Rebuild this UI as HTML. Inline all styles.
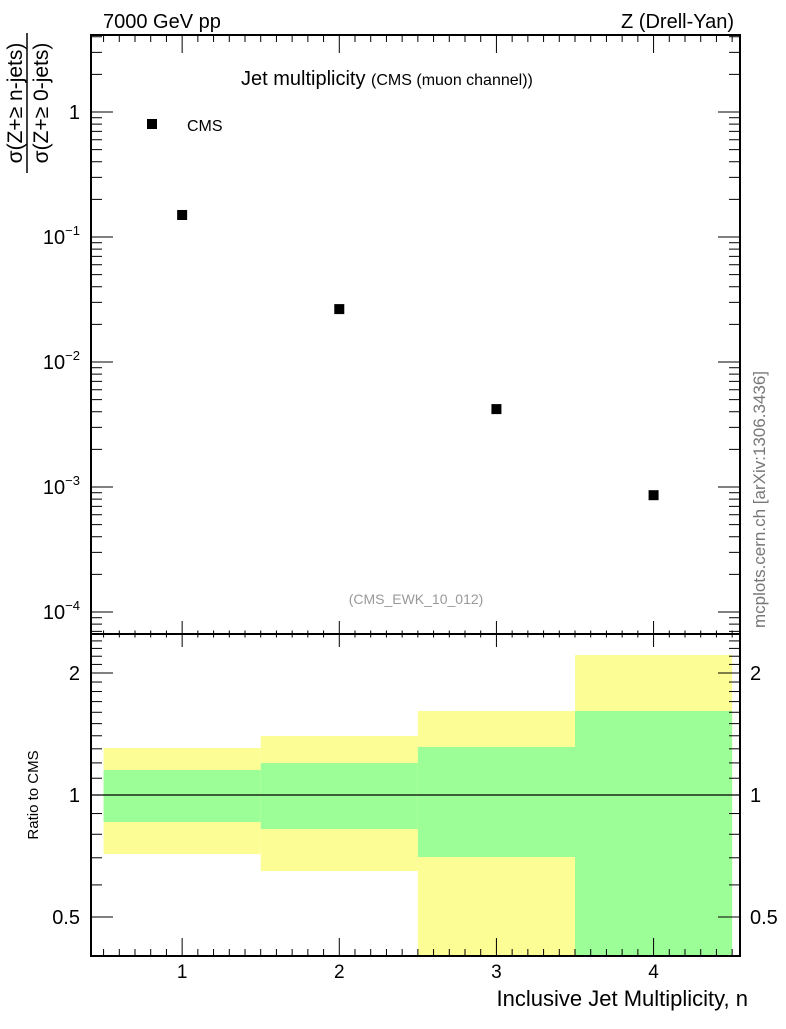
<!DOCTYPE html>
<html><head><meta charset="utf-8"><style>
body{margin:0;background:#fff}
svg{font-family:"Liberation Sans","DejaVu Sans",sans-serif}
</style></head><body>
<svg id="c" width="786" height="1024" xmlns="http://www.w3.org/2000/svg">
<rect width="786" height="1024" fill="#fff"/>
<text x="103" y="28" font-size="20">7000 GeV pp</text>
<text x="734" y="28" font-size="20" text-anchor="end">Z (Drell-Yan)</text>
<text x="241" y="85" font-size="20">Jet multiplicity <tspan font-size="16">(CMS (muon channel))</tspan></text>
<text x="416" y="604" font-size="14" fill="#999" text-anchor="middle">(CMS_EWK_10_012)</text>
<text transform="translate(765,628) rotate(-90)" font-size="17" fill="#777">mcplots.cern.ch [arXiv:1306.3436]</text>
<g transform="translate(0,103) rotate(-90)">
<text x="0" y="22" font-size="21" text-anchor="middle">σ(Z+≥ n-jets)</text>
<line x1="-70" y1="27" x2="70" y2="27" stroke="#000" stroke-width="1.5"/>
<text x="0" y="48" font-size="21" text-anchor="middle">σ(Z+≥ 0-jets)</text>
</g>
<text transform="translate(38,795) rotate(-90)" font-size="15" text-anchor="middle">Ratio to CMS</text>
<text x="748" y="1006" font-size="22" text-anchor="end">Inclusive Jet Multiplicity, n</text>
<g id="g"></g>
</svg>
<script>
const categories=[1,2,3,4];
const values=[0.15,0.0265,0.0042,0.00086];
const binLo=[0.5,1.5,2.5,3.5];
const binHi=[1.5,2.5,3.5,4.5];
const yellowUp=[1.306,1.398,1.612,2.216];
const yellowDn=[0.715,0.649,0.3,0.3];
const greenUp=[1.153,1.199,1.314,1.612];
const greenDn=[0.858,0.824,0.703,0.3];
const xTicks=[1,2,3,4];
const ratioTicks=[0.5,1,2];
const NS="http://www.w3.org/2000/svg";
const L=91,R=740,T=35,M=634,B=956;
const xmin=0.42,xmax=4.55;
const X=v=>L+(v-xmin)/(xmax-xmin)*(R-L);
const Ymain=v=>112-Math.log10(v)*125;
const Yr=v=>Math.max(M,Math.min(B,795-Math.log2(v)*122));
const g=document.getElementById('g');
function mk(tag,at,txt){const e=document.createElementNS(NS,tag);for(const k in at)e.setAttribute(k,at[k]);if(txt!==undefined)e.textContent=txt;g.appendChild(e);return e;}
function ln(x1,y1,x2,y2,w){return mk('line',{x1,y1,x2,y2,stroke:'#000','stroke-width':w||1});}
for(let i=0;i<categories.length;i++){
 const y=mk('rect',{x:X(binLo[i]),y:Yr(yellowUp[i]),width:X(binHi[i])-X(binLo[i]),height:Yr(yellowDn[i])-Yr(yellowUp[i]),fill:'#fdfd96'});
 
 
 const gr=mk('rect',{x:X(binLo[i]),y:Yr(greenUp[i]),width:X(binHi[i])-X(binLo[i]),height:Yr(greenDn[i])-Yr(greenUp[i]),fill:'#9cfe96'});
 
 
}
const ref=ln(L,Yr(1),R,Yr(1),1.2);


for(let i=0;i<categories.length;i++){
 const p=mk('rect',{x:X(categories[i])-5,y:Ymain(values[i])-5,width:10,height:10,fill:'#000'});
 
 
}
const lm=mk('rect',{x:147,y:119,width:10,height:10,fill:'#000'});


const lt=mk('text',{x:187,y:131,'font-size':16},'CMS');


mk('rect',{x:L,y:T,width:R-L,height:M-T,fill:'none',stroke:'#000','stroke-width':2});
mk('rect',{x:L,y:M,width:R-L,height:B-M,fill:'none',stroke:'#000','stroke-width':2});
for(let v=0.5;v<=4.5001;v+=0.1){
 const x=X(v);const major=Math.abs(v-Math.round(v))<1e-6;
 const s=major?18:7;
 ln(x,T,x,T+s);ln(x,M-s/2-(major?4:0),x,M+s/2+(major?4:0));ln(x,B,x,B-s);
}
xTicks.forEach(v=>{const t=mk('text',{x:X(v),y:978,'font-size':19,'text-anchor':'middle'},String(v));});
for(let d=-5;d<=4;d++){for(let k=1;k<10;k++){const v=k*Math.pow(10,d);const y=Ymain(v);if(y<T||y>M)continue;const s=k==1?22:11;ln(L,y,L+s,y);ln(R,y,R-s,y);}}
const mainLabels=[[1,'1'],[0.1,'−1'],[0.01,'−2'],[0.001,'−3'],[0.0001,'−4']];
mainLabels.forEach(([v,e])=>{const y=Ymain(v)+7;let t;if(v===1)t=mk('text',{x:80,y:y,'font-size':20,'text-anchor':'end'},'1');else{t=mk('text',{x:80,y:y,'font-size':20,'text-anchor':'end'});t.innerHTML='10<tspan dy="-9" font-size="13">'+e+'</tspan>';}});
for(let v=0.4;v<=2.5;v+=0.1){const y=Yr(v);if(y<=M||y>=B)continue;const maj=ratioTicks.some(r=>Math.abs(r-v)<1e-6);const s=maj?22:11;ln(L,y,L+s,y);ln(R,y,R-s,y);}
ratioTicks.forEach(v=>{const y=Yr(v)+7;const a=mk('text',{x:80,y:y,'font-size':20,'text-anchor':'end'},String(v));const b=mk('text',{x:750,y:y,'font-size':20},String(v));});
</script>
</body></html>
